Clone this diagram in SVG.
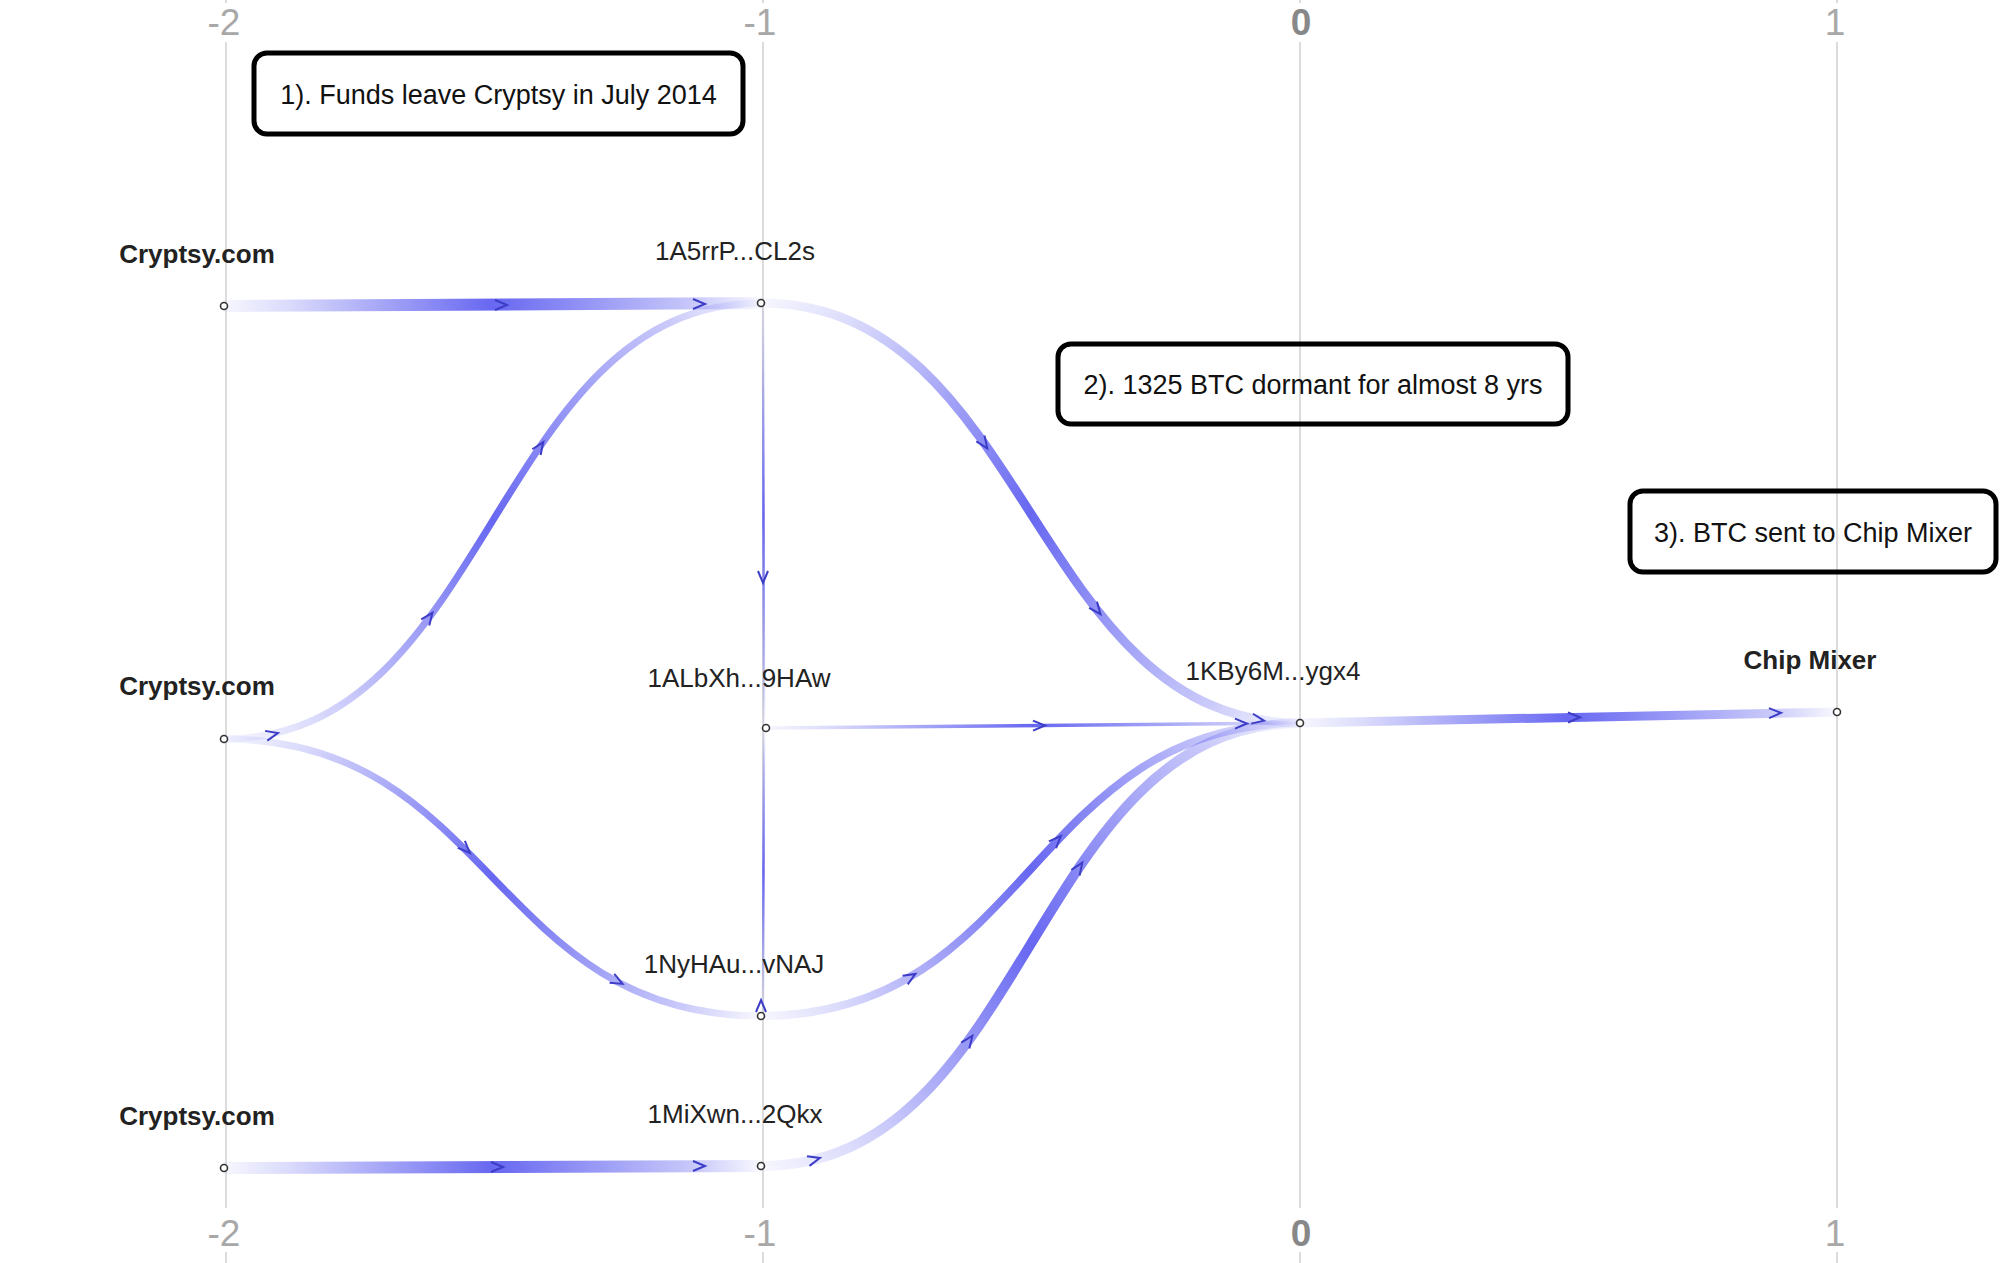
<svg xmlns="http://www.w3.org/2000/svg" xmlns:xlink="http://www.w3.org/1999/xlink" width="2000" height="1263" viewBox="0 0 2000 1263">
<style>
.grid{stroke:#dcdcdc;stroke-width:2;fill:none}
.axis{font-family:"Liberation Sans",Arial,sans-serif;font-size:37px;fill:#a8a8a8;text-anchor:middle}
.axis0{font-weight:bold;fill:#888}
.box{fill:none;stroke:#000;stroke-width:5}
.boxtxt{font-family:"Liberation Sans",Arial,sans-serif;font-size:27px;fill:#111;text-anchor:middle}
.edge{fill:none;stroke-linecap:butt}
.arr{fill:none;stroke:#3d3dc8;stroke-width:2;stroke-linejoin:miter}
.node{fill:#fff;stroke:#333;stroke-width:1.6}
.lbl{font-family:"Liberation Sans",Arial,sans-serif;font-size:26px;fill:#222;text-anchor:middle}
.bold{font-weight:bold}
</style>
<defs>
<linearGradient id="base">
<stop offset="0" stop-color="#5a5af0" stop-opacity="0.05"/>
<stop offset="0.12" stop-color="#5a5af0" stop-opacity="0.22"/>
<stop offset="0.5" stop-color="#5a5af0" stop-opacity="0.92"/>
<stop offset="0.88" stop-color="#5a5af0" stop-opacity="0.32"/>
<stop offset="1" stop-color="#5a5af0" stop-opacity="0.04"/>
</linearGradient>
<linearGradient id="g1" href="#base" gradientUnits="userSpaceOnUse" x1="224" y1="306" x2="761" y2="303"/>
<linearGradient id="g2" href="#base" gradientUnits="userSpaceOnUse" x1="224" y1="739" x2="761" y2="303"/>
<linearGradient id="g3" href="#base" gradientUnits="userSpaceOnUse" x1="224" y1="739" x2="761" y2="1016"/>
<linearGradient id="g4" href="#base" gradientUnits="userSpaceOnUse" x1="763" y1="303" x2="764" y2="728"/>
<linearGradient id="g5" href="#base" gradientUnits="userSpaceOnUse" x1="763" y1="1016" x2="764" y2="728"/>
<linearGradient id="g6" href="#base" gradientUnits="userSpaceOnUse" x1="761" y1="303" x2="1300" y2="723"/>
<linearGradient id="g7" href="#base" gradientUnits="userSpaceOnUse" x1="766" y1="728" x2="1300" y2="723"/>
<linearGradient id="g8" href="#base" gradientUnits="userSpaceOnUse" x1="761" y1="1016" x2="1300" y2="723"/>
<linearGradient id="g9" href="#base" gradientUnits="userSpaceOnUse" x1="761" y1="1166" x2="1300" y2="723"/>
<linearGradient id="g10" href="#base" gradientUnits="userSpaceOnUse" x1="224" y1="1168" x2="761" y2="1166"/>
<linearGradient id="g11" href="#base" gradientUnits="userSpaceOnUse" x1="1300" y1="723" x2="1837" y2="712"/>
<path id="chev" class="arr" d="M-8,-5 L4,0 L-8,5"/>
</defs>

<g id="grid">
<path class="grid" d="M226,0V3M226,42V1208M226,1252V1263"/>
<path class="grid" d="M763,0V3M763,42V1208M763,1252V1263"/>
<path class="grid" d="M1300,0V3M1300,42V1208M1300,1252V1263"/>
<path class="grid" d="M1837,0V3M1837,42V1208M1837,1252V1263"/>
<text class="axis" x="224" y="35">-2</text>
<text class="axis" x="760" y="35">-1</text>
<text class="axis axis0" x="1301" y="35">0</text>
<text class="axis" x="1835" y="35">1</text>
<text class="axis" x="224" y="1246">-2</text>
<text class="axis" x="760" y="1246">-1</text>
<text class="axis axis0" x="1301" y="1246">0</text>
<text class="axis" x="1835" y="1246">1</text>
</g>

<g id="annotations">
<g id="note1"><rect class="box" x="254" y="53" width="489" height="81" rx="13"/><text class="boxtxt" x="498.5" y="104">1). Funds leave Cryptsy in July 2014</text></g>
<g id="note2"><rect class="box" x="1058" y="344" width="510" height="80" rx="13"/><text class="boxtxt" x="1313" y="394">2). 1325 BTC dormant for almost 8 yrs</text></g>
<g id="note3"><rect class="box" x="1630" y="491" width="366" height="81" rx="13"/><text class="boxtxt" x="1813" y="542">3). BTC sent to Chip Mixer</text></g>
</g>

<g id="connectors">
<path class="edge" stroke="url(#g1)" stroke-width="12" d="M224,306 L761,303"/>
<path class="edge" stroke="url(#g10)" stroke-width="12" d="M224,1168 L761,1166"/>
<path class="edge" stroke="url(#g2)" stroke-width="7" d="M224,739 C492.5,739 492.5,303 761,303"/>
<path class="edge" stroke="url(#g3)" stroke-width="7" d="M224,739 C492.5,739 492.5,1016 761,1016"/>
<path class="edge" stroke="url(#g4)" stroke-width="2.5" d="M763,303 L764,728"/>
<path class="edge" stroke="url(#g5)" stroke-width="2.5" d="M763,1016 L764,728"/>
<path class="edge" stroke="url(#g6)" stroke-width="9" d="M761,303 C1030.5,303 1030.5,723 1300,723"/>
<path class="edge" stroke="url(#g7)" stroke-width="3.5" d="M766,728 L1300,723"/>
<path class="edge" stroke="url(#g8)" stroke-width="8" d="M761,1016 C1030.5,1016 1030.5,723 1300,723"/>
<path class="edge" stroke="url(#g9)" stroke-width="10" d="M761,1166 C1030.5,1166 1030.5,723 1300,723"/>
<path class="edge" stroke="url(#g11)" stroke-width="9" d="M1300,723 L1837,712"/>
<g id="arrowheads">
<use href="#chev" transform="translate(503,305)"/>
<use href="#chev" transform="translate(701,304)"/>
<use href="#chev" transform="translate(499,1167)"/>
<use href="#chev" transform="translate(701,1166)"/>
<use href="#chev" transform="translate(274,734) rotate(-12.7)"/>
<use href="#chev" transform="translate(430,616) rotate(-53.6)"/>
<use href="#chev" transform="translate(541,445.5) rotate(-55.5)"/>
<use href="#chev" transform="translate(467,850) rotate(45)"/>
<use href="#chev" transform="translate(619,982) rotate(28)"/>
<use href="#chev" transform="translate(763,579) rotate(90)"/>
<use href="#chev" transform="translate(761,1004) rotate(-90)"/>
<use href="#chev" transform="translate(985,445) rotate(54.7)"/>
<use href="#chev" transform="translate(1098,611) rotate(51.7)"/>
<use href="#chev" transform="translate(1260,720) rotate(9.3)"/>
<use href="#chev" transform="translate(1041,725.5) rotate(-0.5)"/>
<use href="#chev" transform="translate(1243,723.5) rotate(-0.5)"/>
<use href="#chev" transform="translate(912,976) rotate(-31)"/>
<use href="#chev" transform="translate(1058,839) rotate(-46.3)"/>
<use href="#chev" transform="translate(816,1159) rotate(-14.4)"/>
<use href="#chev" transform="translate(970,1039) rotate(-54.1)"/>
<use href="#chev" transform="translate(1080,866) rotate(-55.7)"/>
<use href="#chev" transform="translate(1576,717.3) rotate(-1.2)"/>
<use href="#chev" transform="translate(1777,713) rotate(-1.2)"/>
</g>
</g>

<g id="node-cryptsy1"><circle class="node" cx="224" cy="306" r="3.5"/><text class="lbl bold" x="197" y="263">Cryptsy.com</text></g>
<g id="node-cryptsy2"><circle class="node" cx="224" cy="739" r="3.5"/><text class="lbl bold" x="197" y="695">Cryptsy.com</text></g>
<g id="node-cryptsy3"><circle class="node" cx="224" cy="1168" r="3.5"/><text class="lbl bold" x="197" y="1125">Cryptsy.com</text></g>
<g id="node-1A5rrP"><circle class="node" cx="761" cy="303" r="3.5"/><text class="lbl" x="735" y="260">1A5rrP...CL2s</text></g>
<g id="node-1ALbXh"><circle class="node" cx="766" cy="728" r="3.5"/><text class="lbl" x="739" y="687">1ALbXh...9HAw</text></g>
<g id="node-1NyHAu"><circle class="node" cx="761" cy="1016" r="3.5"/><text class="lbl" x="734" y="973">1NyHAu...vNAJ</text></g>
<g id="node-1MiXwn"><circle class="node" cx="761" cy="1166" r="3.5"/><text class="lbl" x="735" y="1123">1MiXwn...2Qkx</text></g>
<g id="node-1KBy6M"><circle class="node" cx="1300" cy="723" r="3.5"/><text class="lbl" x="1273" y="680">1KBy6M...ygx4</text></g>
<g id="node-chipmixer"><circle class="node" cx="1837" cy="712" r="3.5"/><text class="lbl bold" x="1810" y="669">Chip Mixer</text></g>
</svg>
